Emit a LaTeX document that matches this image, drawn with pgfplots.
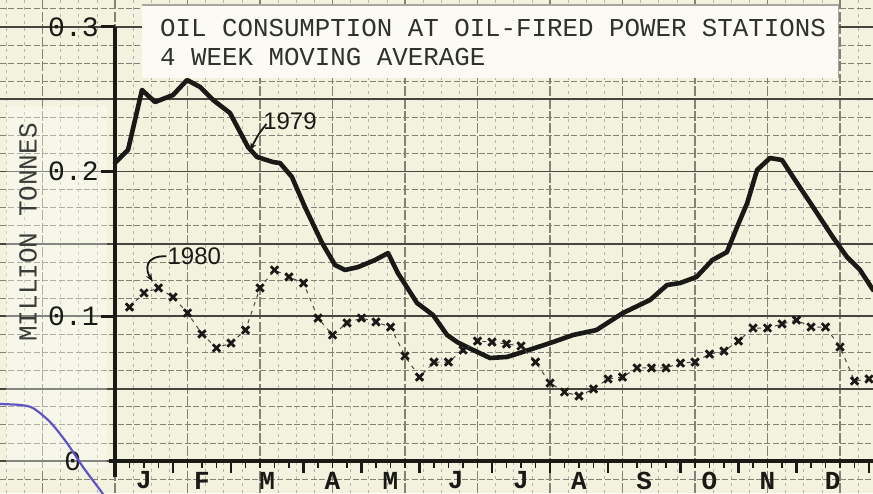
\documentclass[border=0pt]{standalone}
\usepackage{pgfplots}
\pgfplotsset{compat=1.18}
\usetikzlibrary{arrows.meta}
\usepackage{fontspec}
\setmainfont{Liberation Mono}
\newfontfamily\hand{Liberation Sans}
\definecolor{paper}{RGB}{242,242,222}
\definecolor{boxc}{RGB}{251,251,243}
\definecolor{ink}{RGB}{25,25,22}
\definecolor{gridmaj}{RGB}{70,70,62}
\definecolor{gridmin}{RGB}{130,130,118}
\definecolor{pen}{RGB}{95,85,200}
\tikzset{mon/.style={inner sep=0pt, font=\bfseries\fontsize{13}{15}\selectfont, text=ink}}
\begin{document}
\begin{tikzpicture}
\begin{axis}[
  name=ax,
  scale only axis, width=436.5pt, height=246.5pt,
  xmin=-7.931, xmax=52.276, ymin=-0.02211, ymax=0.31859,
  axis background/.style={fill=paper},
  axis line style={draw=none},
  xtick={-10,-5,...,55}, ytick={-0.05,0,0.05,0.1,0.15,0.2,0.25,0.3,0.35},
  minor x tick num=3, minor y tick num=3,
  xticklabels={}, yticklabels={},
  tick label style={inner sep=0pt, outer sep=0pt},
  major tick length=0pt, minor tick length=0pt,
  grid=both,
  major x grid style={gridmin, line width=0.6pt, dash pattern=on 5pt off 1.2pt},
  minor x grid style={gridmin!60, line width=0.3pt, dash pattern=on 1.5pt off 2pt},
  major y grid style={gridmaj, line width=0.85pt},
  minor y grid style={gridmin, line width=0.4pt, dash pattern=on 3pt off 1.2pt},
  clip=false,
]
% lighter patch behind the axis title
\fill[white, opacity=0.35] (axis cs:-7.5,-0.005) rectangle (axis cs:-0.55,0.245);
% axis lines
\draw[ink, line width=2pt] (axis cs:0,-0.011) -- (axis cs:0,0.3);
\draw[ink, line width=2pt] ([xshift=-3pt]axis cs:0,0) -- (axis cs:52.276,0);
\draw[ink, line width=1.6pt] (axis cs:0,0.3) -- ([xshift=-7pt]axis cs:0,0.3);
\draw[ink, line width=1.6pt] (axis cs:0,0.2) -- ([xshift=-7pt]axis cs:0,0.2);
\draw[ink, line width=1.6pt] (axis cs:0,0.1) -- ([xshift=-7pt]axis cs:0,0.1);
\pgfplotsinvokeforeach{1,...,52}{\draw[ink, line width=0.6pt] (axis cs:#1,0) -- ([yshift=-3.5pt]axis cs:#1,0);}
\pgfplotsinvokeforeach{4,8,13,17,21,26,30,34,39,43,47,52}{\draw[ink, line width=1.4pt] (axis cs:#1,0) -- ([yshift=-6pt]axis cs:#1,0);}
% tick labels
\node[anchor=east, inner sep=0pt, font=\fontsize{14}{16}\selectfont, text=ink] at (axis cs:-1.1,0.3) {0.3};
\node[anchor=east, inner sep=0pt, font=\fontsize{14}{16}\selectfont, text=ink] at (axis cs:-1.1,0.2) {0.2};
\node[anchor=east, inner sep=0pt, font=\fontsize{14}{16}\selectfont, text=ink] at (axis cs:-1.1,0.1) {0.1};
\node[anchor=east, inner sep=0pt, font=\fontsize{14}{16}\selectfont, text=ink] at (axis cs:-2.3,0.0) {0};
\node[rotate=90, inner sep=0pt, font=\fontsize{13}{15}\selectfont, text=ink!85] at (axis cs:-6.0,0.158) {MILLION TONNES};
% month labels
\node[mon] at (axis cs:2,-0.0135) {J};
\node[mon] at (axis cs:6,-0.0135) {F};
\node[mon] at (axis cs:10.5,-0.0135) {M};
\node[mon] at (axis cs:15,-0.0135) {A};
\node[mon] at (axis cs:19,-0.0135) {M};
\node[mon] at (axis cs:23.5,-0.0135) {J};
\node[mon] at (axis cs:28,-0.0135) {J};
\node[mon] at (axis cs:32,-0.0135) {A};
\node[mon] at (axis cs:36.5,-0.0135) {S};
\node[mon] at (axis cs:41,-0.0135) {O};
\node[mon] at (axis cs:45,-0.0135) {N};
\node[mon] at (axis cs:49.5,-0.0135) {D};
% title box
\fill[boxc] (rel axis cs:0.1627,0.99) rectangle (rel axis cs:0.96,0.842);
\draw[gray!70, line width=0.6pt] (rel axis cs:0.1627,0.99) -- (rel axis cs:0.96,0.99) -- (rel axis cs:0.96,0.842);
\node[anchor=west, inner sep=0pt, font=\fontsize{12.9}{15}\selectfont, text=ink!90] at (rel axis cs:0.183,0.943) {OIL CONSUMPTION AT OIL-FIRED POWER STATIONS};
\node[anchor=west, inner sep=0pt, font=\fontsize{12.9}{15}\selectfont, text=ink!90] at (rel axis cs:0.183,0.884) {4 WEEK MOVING AVERAGE};
% 1979
\addplot[ink, line width=2.3pt, line join=round, line cap=round] coordinates {
(0,0.206) (0.9,0.215) (1.86,0.2564) (2.76,0.2481) (4.0,0.2529) (4.97,0.2633) (5.86,0.2585) (6.76,0.2495) (7.93,0.2405) (9.17,0.217) (9.79,0.2101) (10.9,0.2066) (11.38,0.2059) (12.2,0.1963) (13.1,0.1755) (14.28,0.1507) (15.17,0.1355) (15.86,0.132) (16.76,0.134) (17.93,0.1389) (18.83,0.1437) (19.5,0.13) (20.83,0.1092) (21.93,0.1009) (22.9,0.0871) (23.6,0.0822) (24.7,0.0767) (25.86,0.0712) (27.03,0.0719) (28.1,0.0753) (30.0,0.0815) (31.6,0.0871) (33.2,0.0905) (35.03,0.1023) (36.9,0.1113) (38.07,0.1216) (38.97,0.123) (40.1,0.1272) (41.2,0.1389) (42.2,0.1444) (42.9,0.1617) (43.6,0.1783) (44.28,0.2011) (45.17,0.2094) (46.0,0.208) (46.76,0.1963) (48.14,0.1755) (49.5,0.1548) (50.48,0.141) (51.38,0.132) (52.28,0.1182)
};
% 1980
\addplot[ink!80, line width=0.5pt, dash pattern=on 2pt off 2.5pt, mark=x, mark size=2.6pt, mark options={solid, ink, line width=1.4pt}] coordinates {
(1,0.1064) (2,0.1161) (3,0.1196) (4,0.1133) (5,0.1023) (6,0.0878) (7,0.0781) (8,0.0815) (9,0.0905) (10,0.1196) (11,0.132) (12,0.1272) (13,0.123) (14,0.0988) (15,0.0871) (16,0.0954) (17,0.0988) (18,0.0961) (19,0.0926) (20,0.0726) (21,0.058) (22,0.0684) (23,0.0684) (24,0.0767) (25,0.0829) (26,0.0822) (27,0.0809) (28,0.0795) (29,0.0684) (30,0.0539) (31,0.0477) (32,0.0449) (33,0.0498) (34,0.0567) (35,0.058) (36,0.0643) (37,0.0643) (38,0.0643) (39,0.0677) (40,0.0684) (41,0.0739) (42,0.076) (43,0.0829) (44,0.0919) (45,0.0919) (46,0.0947) (47,0.0974) (48,0.0926) (49,0.0926) (50,0.0788) (51,0.0553) (52,0.0567)
};
% stray pen stroke
\addplot[pen, line width=1.1pt, smooth] coordinates {
(-7.93,0.0394) (-6.55,0.0387) (-5.66,0.0366) (-4.48,0.027) (-3.31,0.0124) (-2.21,-0.0041) (-1.03,-0.02) (-0.69,-0.0249)
};
% annotations
\node[anchor=west, inner sep=0pt, font=\hand\fontsize{12}{14}\selectfont, text=ink] at (axis cs:10.2,0.2345) {1979};
\draw[ink, line width=0.9pt, -{Stealth[length=4pt]}] (axis cs:10.45,0.2330) .. controls (axis cs:9.9,0.226) .. (axis cs:9.3,0.2145);
\node[anchor=west, inner sep=0pt, font=\hand\fontsize{12}{14}\selectfont, text=ink] at (axis cs:3.6,0.1415) {1980};
\draw[ink, line width=0.9pt, -{Stealth[length=4pt]}] (axis cs:3.55,0.1415) .. controls (axis cs:2.0,0.142) and (axis cs:2.1,0.132) .. (axis cs:2.6,0.124);
\end{axis}
\pgfresetboundingbox
\path (ax.south west) rectangle (ax.north east);
\end{tikzpicture}
\end{document}
